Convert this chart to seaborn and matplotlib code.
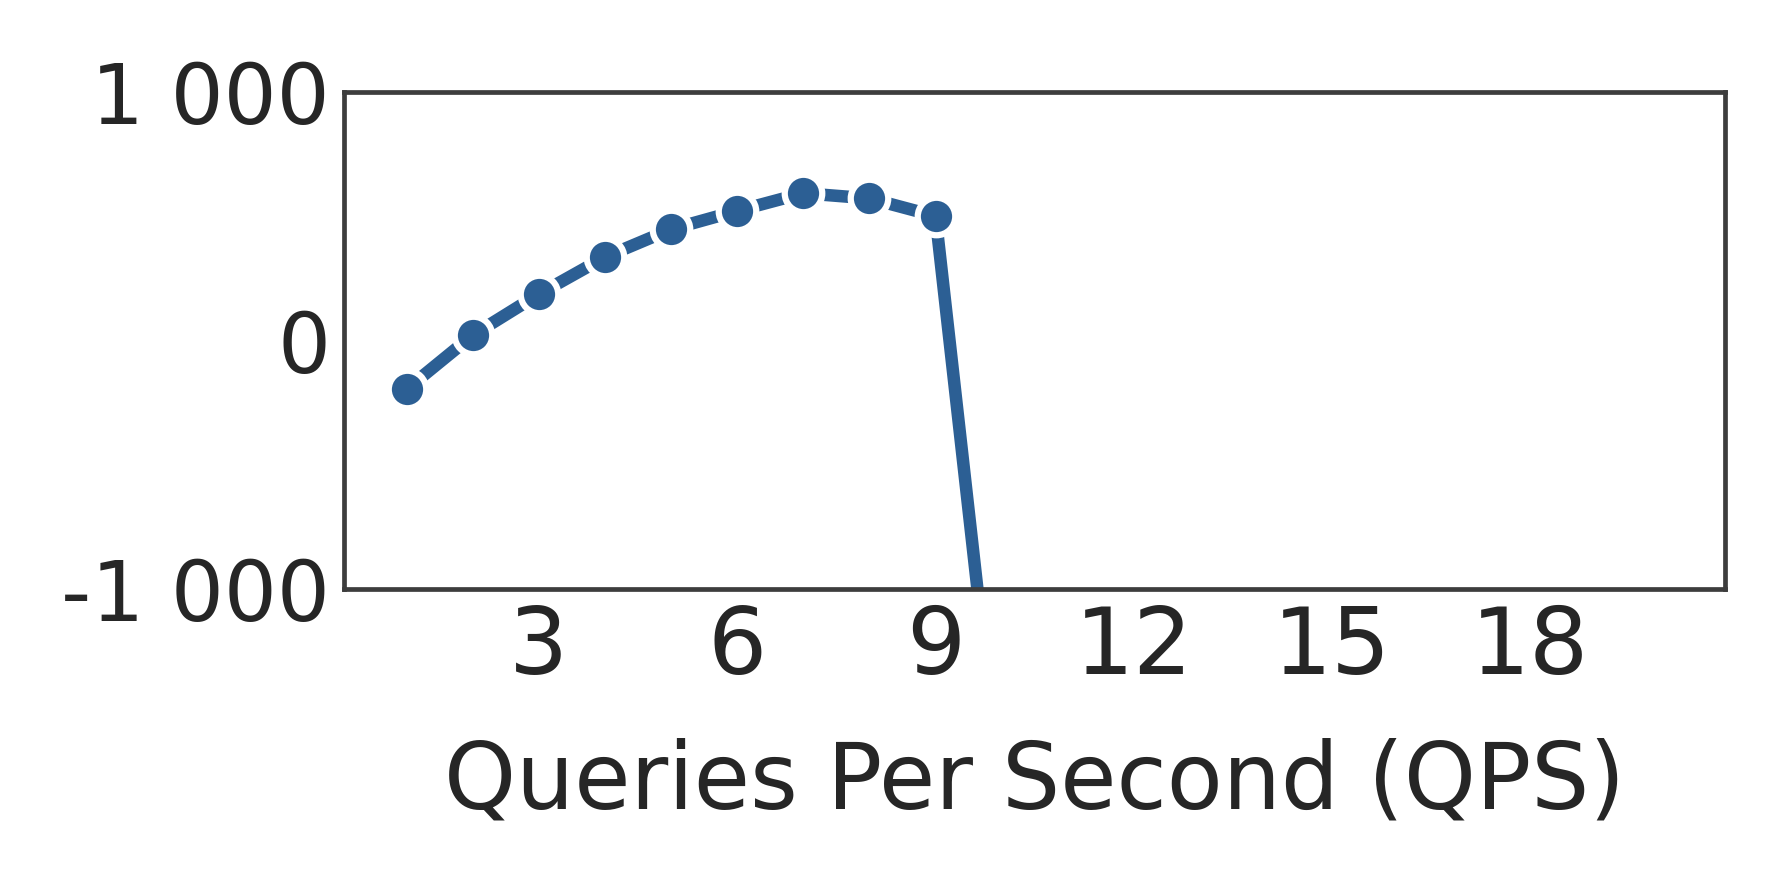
import matplotlib
matplotlib.use("Agg")
import matplotlib.pyplot as plt
from matplotlib.ticker import FuncFormatter
import seaborn as sns
import pandas as pd

# Data
qps = [1, 2, 3, 4, 5, 6, 7, 8, 9, 10]
values = [-194, 23, 188, 337, 449, 523, 594, 573, 502, -1866]
x_ticks = [3, 6, 9, 12, 15, 18]
y_ticks = [-1000, 0, 1000]
x_label = "Queries Per Second (QPS)"

sns.set_style("white")
plt.rcParams["font.family"] = ["DejaVu Sans"]

df = pd.DataFrame({"qps": qps, "value": values})

fig = plt.figure(figsize=(17.85, 8.85), dpi=100)
ax = fig.add_axes([0.1927, 0.3341, 0.9666 - 0.1927, 0.8957 - 0.3341])

sns.lineplot(data=df, x="qps", y="value", ax=ax, color="#2c5f94",
             linewidth=9, marker="o", markersize=27,
             markeredgecolor="white", markeredgewidth=4.5)

ax.set_xlim(0.05, 20.95)
ax.set_ylim(-1000, 1000)
ax.set_xticks(x_ticks)
ax.set_yticks(y_ticks)
ax.yaxis.set_major_formatter(FuncFormatter(lambda v, p: f"{int(v):,}".replace(",", " ")))
ax.tick_params(axis="x", labelsize=67, length=0, pad=10, colors="#262626")
ax.tick_params(axis="y", labelsize=60, length=0, pad=10, colors="#262626")
ax.set_xlabel(x_label, fontsize=66, color="#262626", labelpad=32)
ax.set_ylabel("")

for s in ax.spines.values():
    s.set_color("#3d3d3d")
    s.set_linewidth(3.4)

fig.savefig("out.png", dpi=100)
